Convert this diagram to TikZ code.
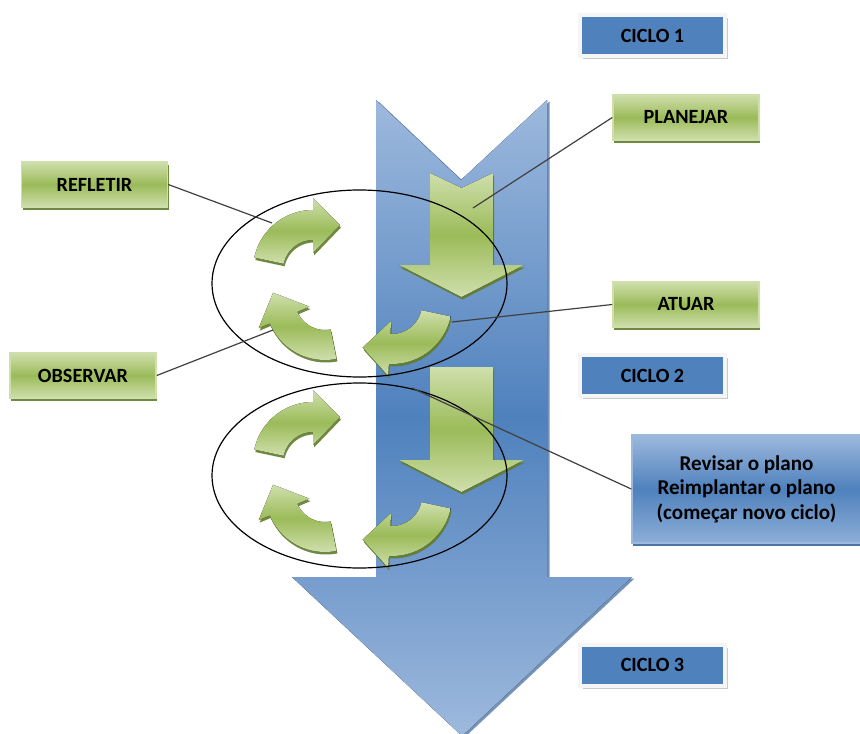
\documentclass[tikz,border=0pt]{standalone}
\usepackage{fontspec}
\setmainfont{Carlito}
\usepackage{xcolor}
\usepackage{tikz}
\usetikzlibrary{calc,shadows}
\newlength{\pxu}
\setlength{\pxu}{0.02cm}
\definecolor{leaf}{HTML}{9BBB59}
\definecolor{leaflight}{HTML}{CFDFAC}
\definecolor{leafdark}{HTML}{617C2C}
\definecolor{sky}{HTML}{4F81BD}
\definecolor{skylight}{HTML}{9DB9DD}
\definecolor{skydark}{HTML}{3B659B}
\newcommand{\drawDown}[4]{% top y, notch depth, head y, tip y
  \fill[leafshade,leafshadow] (430,#1) -- (461.5,#1+#2) -- (493,#1) -- (493,#3)
    -- (524,#3) -- (461.5,#4) -- (399,#3) -- (430,#3) -- cycle;
}
\newcommand{\drawTurn}[4]{% center x,y, tail angle, head angle
  \fill[leafshade,leafshadow]
    plot[domain=#3:#4,samples=25] ({#1+60*cos(\x)},{#2+60*sin(\x)})
    -- ({#1+72*cos(#4)},{#2+72*sin(#4)})
    -- ($(#1,#2)+(#4:45)+(#4+90:27)$)
    -- ({#1+17*cos(#4)},{#2+17*sin(#4)})
    -- plot[domain=#4:#3,samples=25] ({#1+30*cos(\x)},{#2+30*sin(\x)}) -- cycle;
}
\newcommand{\drawCycle}[1]{% y offset
  \drawTurn{313}{270+#1}{192}{270}
  \drawTurn{325}{300+#1}{79}{157}
  \drawTurn{392}{304+#1}{12}{93}
}

\begin{document}
\begin{tikzpicture}[x=0.02cm,y=-0.02cm,
  leafshade/.style={top color=leaflight,bottom color=leaflight,middle color=leaf},
  leafshadow/.style={drop shadow={shadow xshift=1\pxu,shadow yshift=-2.5\pxu,fill=leafdark,opacity=.9}},
  greenlabel/.style={draw=leaflight,line width=1.5\pxu,leafshade,leafshadow,
    minimum width=146\pxu,minimum height=45\pxu,inner sep=0pt,
    font=\fontsize{11.5}{13}\selectfont\bfseries},
  cyclelabel/.style={fill=sky,draw=gray!8,line width=4\pxu,
    drop shadow={shadow xshift=3\pxu,shadow yshift=-3\pxu,fill=gray!70,opacity=.6},
    minimum width=145\pxu,minimum height=41\pxu,inner sep=0pt,
    font=\fontsize{11.5}{13}\selectfont\bfseries},
  planbox/.style={top color=skylight,bottom color=skylight!80!sky,middle color=sky,
    draw=skylight,line width=1.5\pxu,
    drop shadow={shadow xshift=1\pxu,shadow yshift=-3\pxu,fill=skydark,opacity=.9},
    minimum width=229\pxu,minimum height=108\pxu,inner sep=0pt,align=center,
    font=\fontsize{12}{13.9}\selectfont\bfseries},
  ring/.style={draw=black,line width=1.2\pxu},
  link/.style={draw=black!75,line width=1.2\pxu}]
\useasboundingbox (0,0) rectangle (860,734);

% Big blue arrow
\fill[top color=skylight,bottom color=skylight,middle color=sky,
  drop shadow={shadow xshift=2.5\pxu,shadow yshift=-1.5\pxu,fill=skydark,opacity=.7}]
  (376,100) -- (461,180) -- (547,100) -- (547,577) -- (632,577)
  -- (462,736) -- (292,577) -- (376,577) -- cycle;

% Cycle 1
\drawDown{173}{15}{265}{297}
\drawCycle{0}
\draw[ring] (359.5,283.5) ellipse [x radius=147.5,y radius=93.5];

% Cycle 2
\drawDown{367}{0}{460}{492}
\drawCycle{192}
\draw[ring] (359.5,475.5) ellipse [x radius=147.5,y radius=92.5];

% Connector ends
\coordinate (plan1) at (473,208);
\coordinate (refl1) at (272,223);
\coordinate (obs1) at (273,330);
\coordinate (act1) at (452,322);
\coordinate (plan2) at (412,388);

% Labels
\node[cyclelabel] (ciclo1) at (652.5,35.5) {CICLO 1};
\node[cyclelabel] (ciclo2) at (652.5,375.5) {CICLO 2};
\node[cyclelabel] (ciclo3) at (652.5,665) {CICLO 3};
\node[greenlabel] (planejar) at (686,117.5) {PLANEJAR};
\node[greenlabel] (atuar) at (686,304.5) {ATUAR};
\node[greenlabel] (refletir) at (94.5,184.5) {REFLETIR};
\node[greenlabel] (observar) at (83,375.5) {OBSERVAR};
\node[planbox] (revisar) at (746.5,489) {Revisar o plano\\Reimplantar o plano\\(começar novo ciclo)};

% Connectors
\draw[link] (planejar.west) -- (plan1);
\draw[link] (refletir.east) -- (refl1);
\draw[link] (observar.east) -- (obs1);
\draw[link] (atuar.west) -- (act1);
\draw[link] (revisar.west) -- (plan2);
\end{tikzpicture}
\end{document}
